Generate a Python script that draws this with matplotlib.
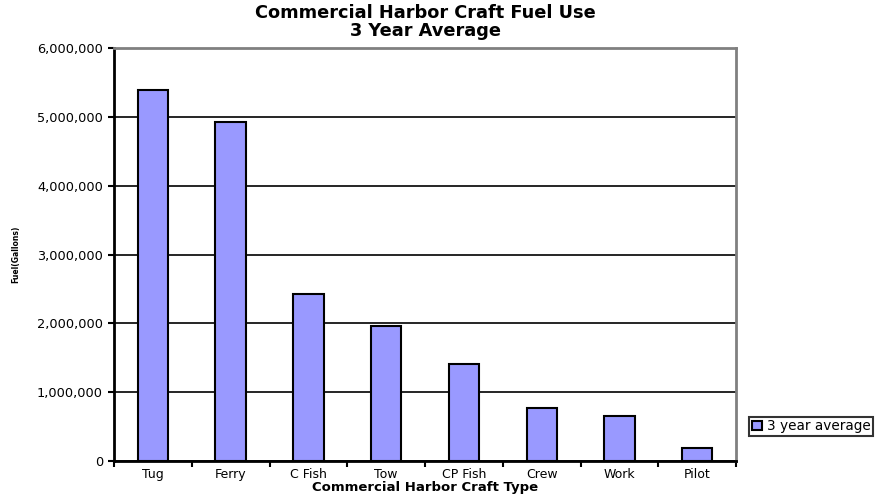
import matplotlib
matplotlib.use("Agg")
from matplotlib import pyplot as plt
from matplotlib.ticker import FuncFormatter, MultipleLocator

categories = ["Tug", "Ferry", "C Fish", "Tow", "CP Fish", "Crew", "Work", "Pilot"]
fuel = [5390000, 4925000, 2430000, 1960000, 1410000, 770000, 654000, 190000]
series_name = "3 year average"

plt.rcParams['font.family'] = ['DejaVu Sans']

fig = plt.figure(figsize=(8.81, 4.98), dpi=100)
ax = fig.add_axes([0.1294, 0.0743, 0.7062, 0.8293])

x = range(len(categories))
ax.bar(x, fuel, width=0.39, color='#9999FF', edgecolor='black', linewidth=1.5,
       label=series_name, zorder=3)

ax.set_xlim(-0.5, len(categories) - 0.5)
ax.set_ylim(0, 6000000)
ax.yaxis.set_major_locator(MultipleLocator(1000000))
ax.yaxis.set_major_formatter(FuncFormatter(lambda v, p: "{:,.0f}".format(v)))
ax.grid(axis='y', color='black', linewidth=1.2, zorder=0)

ax.set_xticks(list(x))
ax.set_xticklabels(categories)
ax.set_xticks([i - 0.5 for i in range(len(categories) + 1)], minor=True)
ax.tick_params(axis='x', which='major', length=0, labelsize=9, pad=5)
ax.tick_params(axis='x', which='minor', length=4, width=1.5, direction='out')
ax.tick_params(axis='y', labelsize=9.3, length=4, width=1.5, direction='out', pad=4)

for side in ['left', 'bottom']:
    ax.spines[side].set_linewidth(2)
    ax.spines[side].set_color('black')
ax.spines['top'].set_color('#808080')
ax.spines['top'].set_linewidth(2)
ax.spines['right'].set_color('#808080')
ax.spines['right'].set_linewidth(2)

ax.set_title("Commercial Harbor Craft Fuel Use\n3 Year Average", fontsize=12.8,
             fontweight='bold', pad=9, linespacing=1.0)
ax.set_xlabel("Commercial Harbor Craft Type", fontsize=9.5, fontweight='bold', labelpad=0)
ax.set_ylabel("Fuel(Gallons)", fontsize=5.5, fontweight='bold', labelpad=12)

leg = fig.legend(loc='center left', bbox_to_anchor=(0.85, 0.144), fontsize=9.8,
                 frameon=True, fancybox=False, edgecolor='black', handlelength=0.8,
                 handleheight=0.6, handletextpad=0.3, borderpad=0.2, borderaxespad=0)
leg.get_frame().set_linewidth(1.5)

fig.savefig("out.png", dpi=100)
